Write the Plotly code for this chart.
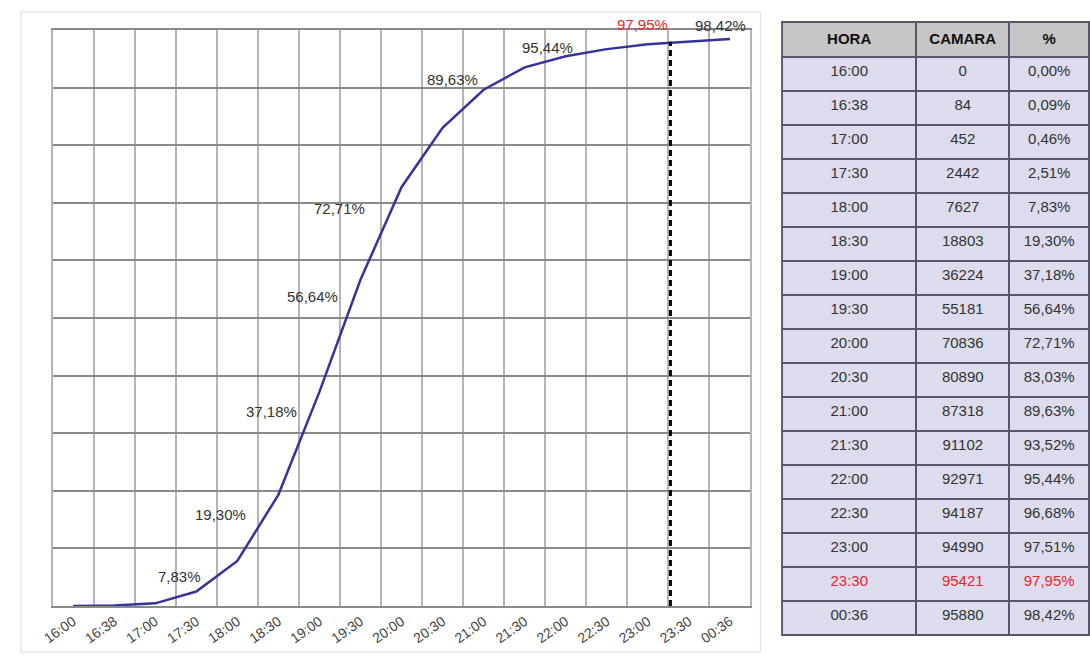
import plotly.graph_objects as go

HORA = ["16:00", "16:38", "17:00", "17:30", "18:00", "18:30", "19:00", "19:30", "20:00",
        "20:30", "21:00", "21:30", "22:00", "22:30", "23:00", "23:30", "00:36"]
CAMARA = [0, 84, 452, 2442, 7627, 18803, 36224, 55181, 70836,
          80890, 87318, 91102, 92971, 94187, 94990, 95421, 95880]
PCT = [0.00, 0.09, 0.46, 2.51, 7.83, 19.30, 37.18, 56.64, 72.71,
       83.03, 89.63, 93.52, 95.44, 96.68, 97.51, 97.95, 98.42]

HORA_CORTE = "23:30"
ETIQUETAS = ["18:00", "18:30", "19:00", "19:30", "20:00", "21:00", "22:00", "23:30", "00:36"]

# desplazamiento (px) de cada etiqueta respecto a su punto
OFFSETS = {
    "18:00": (-58, -16), "18:30": (-58, -20), "19:00": (-48, -20), "19:30": (-48, -17),
    "20:00": (-62, -21), "21:00": (-31, 10), "22:00": (-18, 9), "23:30": (-46, 17),
    "00:36": (-9, 14),
}

FONT = "Liberation Sans, Arial, sans-serif"
INK = "#333333"
RED = "#e8262b"
W, H = 1090, 656


def fmt_pct(v):
    return f"{v:.2f}%".replace(".", ",")


fig = go.Figure()

fig.add_trace(go.Scatter(
    x=HORA, y=PCT, mode="lines",
    line=dict(color="#34349a", width=2.5),
    hoverinfo="skip", showlegend=False,
))

for h in ETIQUETAS:
    i = HORA.index(h)
    dx, dy = OFFSETS[h]
    fig.add_annotation(
        x=i, y=PCT[i], text=fmt_pct(PCT[i]), showarrow=False,
        xshift=dx, yshift=dy,
        font=dict(family=FONT, size=15, color=RED if h == HORA_CORTE else INK),
    )

i_corte = HORA.index(HORA_CORTE)
fig.add_shape(
    type="line", xref="x", yref="y",
    x0=i_corte - 0.45, x1=i_corte - 0.45, y0=0, y1=PCT[i_corte],
    line=dict(color="black", width=3, dash="6px,4px"),
)

# marco del área del gráfico
fig.add_shape(
    type="rect", xref="paper", yref="paper",
    x0=10 / W, x1=757 / W, y0=4 / H, y1=1 - 12 / H,
    line=dict(color="#dedede", width=1), layer="below",
)

colores = [RED if h == HORA_CORTE else INK for h in HORA]
fig.add_trace(go.Table(
    domain=dict(x=[779 / W, 1.0], y=[0.01, 1 - 22 / H]),
    columnwidth=[136, 94, 81],
    header=dict(
        values=["<b>HORA</b>", "<b>CAMARA</b>", "<b>%</b>"],
        fill_color="#c6c6c6", line=dict(color="#55556e", width=2),
        align="center", height=35,
        font=dict(family=FONT, size=15, color="#111111"),
    ),
    cells=dict(
        values=[HORA, [str(c) for c in CAMARA], [fmt_pct(p) for p in PCT]],
        fill_color="#dcdcee", line=dict(color="#55556e", width=2),
        align="center", height=34,
        font=dict(family=FONT, size=15, color=[colores, colores, colores]),
    ),
))

fig.update_layout(
    width=W, height=H,
    margin=dict(l=0, r=0, t=0, b=0),
    paper_bgcolor="white", plot_bgcolor="white",
    showlegend=False,
    xaxis=dict(
        domain=[42 / W, 747 / W], type="category", range=[-0.5, len(HORA) - 0.5],
        tickson="boundaries", ticks="", showgrid=True, gridcolor="#b4b4b4", gridwidth=1.5,
        tickangle=-35, tickfont=dict(family=FONT, size=14, color="#444444"),
        showline=True, mirror=True, linecolor="#8a8a8a", linewidth=2, zeroline=False,
    ),
    yaxis=dict(
        domain=[50 / H, 1 - 30 / H], range=[0, 100], dtick=10,
        showticklabels=False, ticks="", showgrid=True, gridcolor="#8a8a8a", gridwidth=2,
        showline=True, mirror=True, linecolor="#b4b4b4", linewidth=1.5, zeroline=False,
    ),
)

fig.write_html(
    "out.html",
    config={"displayModeBar": False},
    post_script="document.body.style.margin='0';",
)
